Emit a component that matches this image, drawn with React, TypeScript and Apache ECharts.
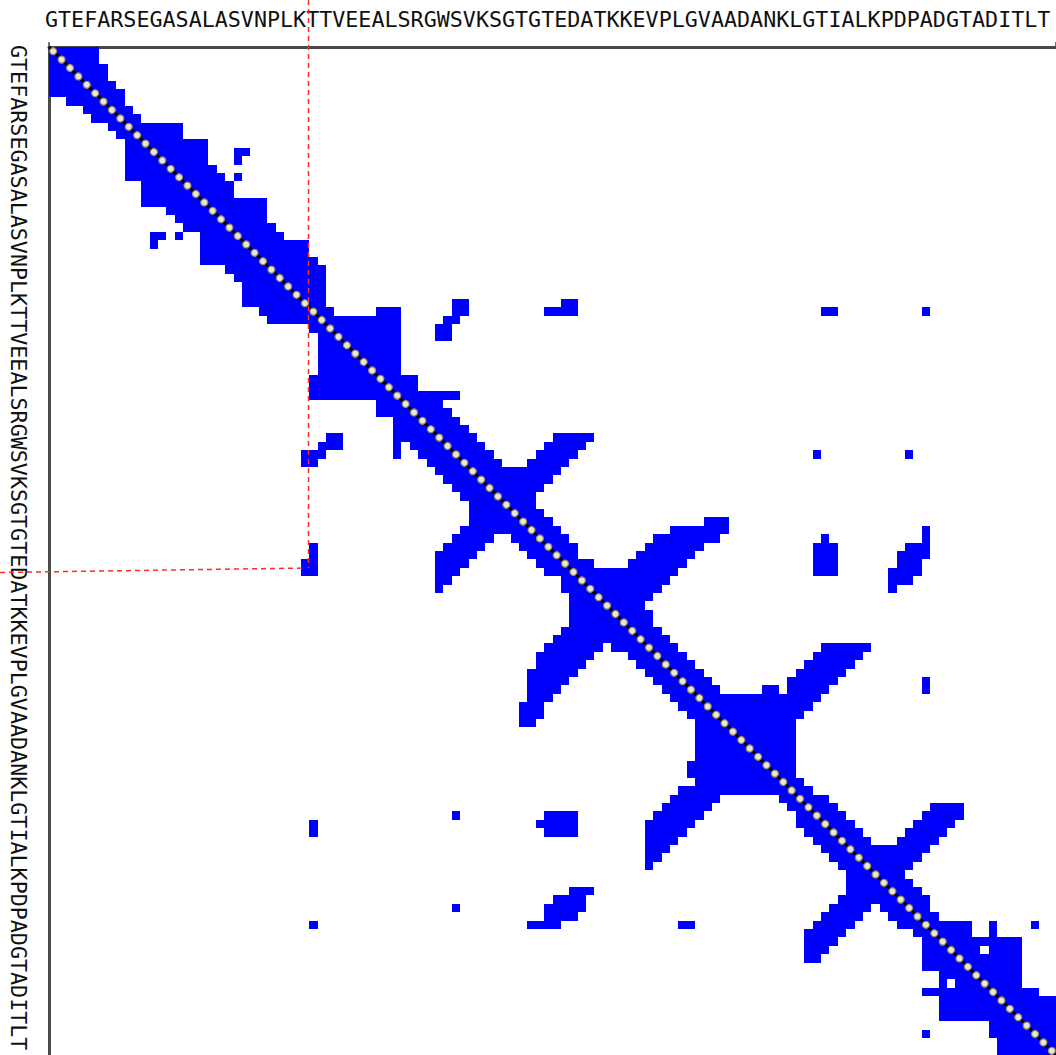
import React, { useEffect, useRef } from "react";
import * as echarts from "echarts";

const SEQUENCE = "GTEFARSEGASALASVNPLKTTVEEALSRGWSVKSGTGTEDATKKEVPLGVAADANKLGTIALKPDPADGTADITLT";
const N_CELLS = 120;

// Upper-triangle contact runs per row: [firstCol, lastCol]; the map is symmetric.
const ROW_RUNS: number[][][] = [
  [[0, 5]],
  [[1, 5]],
  [[2, 6]],
  [[3, 6]],
  [[4, 7]],
  [[5, 8]],
  [[6, 8]],
  [[7, 9]],
  [[8, 10]],
  [[9, 15]],
  [[10, 15]],
  [[11, 18]],
  [[12, 18], [22, 23]],
  [[13, 18], [22, 22]],
  [[14, 19]],
  [[15, 20], [22, 22]],
  [[16, 21]],
  [[17, 21]],
  [[18, 25]],
  [[19, 25]],
  [[20, 25]],
  [[21, 26]],
  [[22, 27]],
  [[23, 30]],
  [[24, 30]],
  [[25, 31]],
  [[26, 32]],
  [[27, 32]],
  [[28, 32]],
  [[29, 32]],
  [[30, 32], [48, 49], [61, 62]],
  [[31, 33], [39, 41], [48, 49], [59, 62], [92, 93], [104, 104]],
  [[32, 41], [47, 48]],
  [[33, 41], [46, 47]],
  [[34, 41], [46, 47]],
  [[35, 41]],
  [[36, 41]],
  [[37, 41]],
  [[38, 41]],
  [[39, 43]],
  [[40, 43]],
  [[41, 48]],
  [[42, 46]],
  [[43, 47]],
  [[44, 48]],
  [[45, 49]],
  [[46, 50], [60, 64]],
  [[47, 51], [59, 63]],
  [[48, 52], [58, 62], [91, 91], [102, 102]],
  [[49, 53], [57, 61]],
  [[50, 60]],
  [[51, 59]],
  [[52, 58]],
  [[53, 57]],
  [[54, 57]],
  [[55, 58]],
  [[56, 59], [78, 80]],
  [[57, 60], [74, 80], [104, 104]],
  [[58, 61], [72, 79], [92, 92], [104, 104]],
  [[59, 62], [71, 77], [91, 93], [102, 104]],
  [[60, 62], [70, 76], [91, 93], [101, 104]],
  [[61, 64], [69, 75], [91, 93], [101, 103]],
  [[62, 74], [91, 93], [100, 103]],
  [[63, 73], [100, 102]],
  [[64, 72], [100, 100]],
  [[65, 71]],
  [[66, 70]],
  [[67, 71]],
  [[68, 71]],
  [[69, 72]],
  [[70, 73]],
  [[71, 74], [92, 97]],
  [[72, 75], [91, 96]],
  [[73, 76], [90, 95]],
  [[74, 77], [89, 94]],
  [[75, 78], [88, 93], [104, 104]],
  [[76, 79], [85, 86], [88, 92], [104, 104]],
  [[77, 91]],
  [[78, 90]],
  [[79, 89]],
  [[80, 88]],
  [[81, 88]],
  [[82, 88]],
  [[83, 88]],
  [[84, 88]],
  [[85, 88]],
  [[86, 88]],
  [[87, 89]],
  [[88, 90]],
  [[89, 92]],
  [[90, 93], [105, 108]],
  [[91, 94], [104, 108]],
  [[92, 95], [103, 107]],
  [[93, 96], [102, 106]],
  [[94, 97], [101, 105]],
  [[95, 104]],
  [[96, 103]],
  [[97, 102]],
  [[98, 101]],
  [[99, 102]],
  [[100, 103]],
  [[101, 104]],
  [[102, 104]],
  [[103, 105]],
  [[104, 109], [112, 112], [117, 117]],
  [[105, 109], [112, 112]],
  [[106, 115]],
  [[107, 110], [112, 115]],
  [[108, 115]],
  [[109, 115]],
  [[110, 115]],
  [[111, 115]],
  [[112, 117]],
  [[113, 119]],
  [[114, 119]],
  [[115, 119]],
  [[116, 119]],
  [[117, 119]],
  [[118, 119]],
  [[119, 119]],
];

function buildRects(): number[][] {
  const out: number[][] = [];
  ROW_RUNS.forEach((runs, r) => {
    runs.forEach(([a, b]) => {
      out.push([a, r, b + 1, r + 1]); // upper triangle (row run)
      out.push([r, a, r + 1, b + 1]); // mirrored lower triangle (column run)
    });
  });
  return out;
}

export default function App() {
  const ref = useRef<HTMLDivElement>(null);
  useEffect(() => {
    if (!ref.current) return;
    const chart = echarts.init(ref.current, null, { renderer: "svg" });
    const rects = buildRects();
    const diag = Array.from({ length: N_CELLS }, (_, i) => [i + 0.5, i + 0.5]);
    const axisLine = { show: true, lineStyle: { color: "#4a4a4a", width: 3 } };
    chart.setOption({
      animation: false,
      backgroundColor: "#ffffff",
      grid: { left: 49, top: 47, width: 1007, height: 1008, containLabel: false },
      xAxis: {
        type: "value",
        position: "top",
        min: 0,
        max: N_CELLS,
        interval: N_CELLS,
        axisLine,
        axisTick: { show: true, length: 5, lineStyle: { color: "#4a4a4a", width: 1.5 } },
        axisLabel: { show: false },
        splitLine: { show: false },
      },
      yAxis: {
        type: "value",
        inverse: true,
        min: 0,
        max: N_CELLS,
        interval: N_CELLS,
        axisLine,
        axisTick: { show: false },
        axisLabel: { show: false },
        splitLine: { show: false },
      },
      series: [
        {
          type: "custom",
          clip: true,
          encode: { x: [0, 2], y: [1, 3] },
          data: rects,
          renderItem: (params: any, api: any) => {
            const p0 = api.coord([api.value(0), api.value(1)]);
            const p1 = api.coord([api.value(2), api.value(3)]);
            const x = Math.round(p0[0]);
            const y = Math.round(p0[1]);
            return {
              type: "rect",
              shape: { x, y, width: Math.round(p1[0]) - x, height: Math.round(p1[1]) - y },
              style: { fill: "#0000ff" },
            };
          },
          z: 2,
        },
        {
          type: "line",
          data: [[0, 0], [N_CELLS, N_CELLS]],
          symbol: "none",
          lineStyle: { color: "#000000", width: 3 },
          z: 3,
        },
        {
          type: "scatter",
          data: diag,
          symbol: "circle",
          symbolSize: 7,
          itemStyle: { color: "#ece6cc", borderColor: "#8e886c", borderWidth: 1.2, opacity: 1 },
          z: 4,
        },
      ],
      graphic: [
        {
          type: "text",
          x: 45,
          y: 19,
          style: {
            text: SEQUENCE,
            font: "21.7px 'DejaVu Sans Mono'",
            fill: "#111111",
            textAlign: "left",
            textVerticalAlign: "middle",
          },
        },
        {
          type: "text",
          x: 18,
          y: 45,
          rotation: -Math.PI / 2,
          style: {
            text: SEQUENCE,
            font: "21.7px 'DejaVu Sans Mono'",
            fill: "#111111",
            textAlign: "left",
            textVerticalAlign: "middle",
          },
        },
        {
          type: "line",
          shape: { x1: 308.5, y1: 0, x2: 308.5, y2: 568 },
          style: { stroke: "#ff2a2a", lineWidth: 1.5, lineDash: [5, 4] },
          z: 10,
        },
        {
          type: "line",
          shape: { x1: 0, y1: 572.5, x2: 306, y2: 568 },
          style: { stroke: "#ff2a2a", lineWidth: 1.5, lineDash: [5, 4] },
          z: 10,
        },
      ],
    });
    return () => chart.dispose();
  }, []);
  return (
    <div
      ref={ref}
      style={{ position: "fixed", left: 0, top: 0, width: 1056, height: 1055, background: "#fff" }}
    />
  );
}
